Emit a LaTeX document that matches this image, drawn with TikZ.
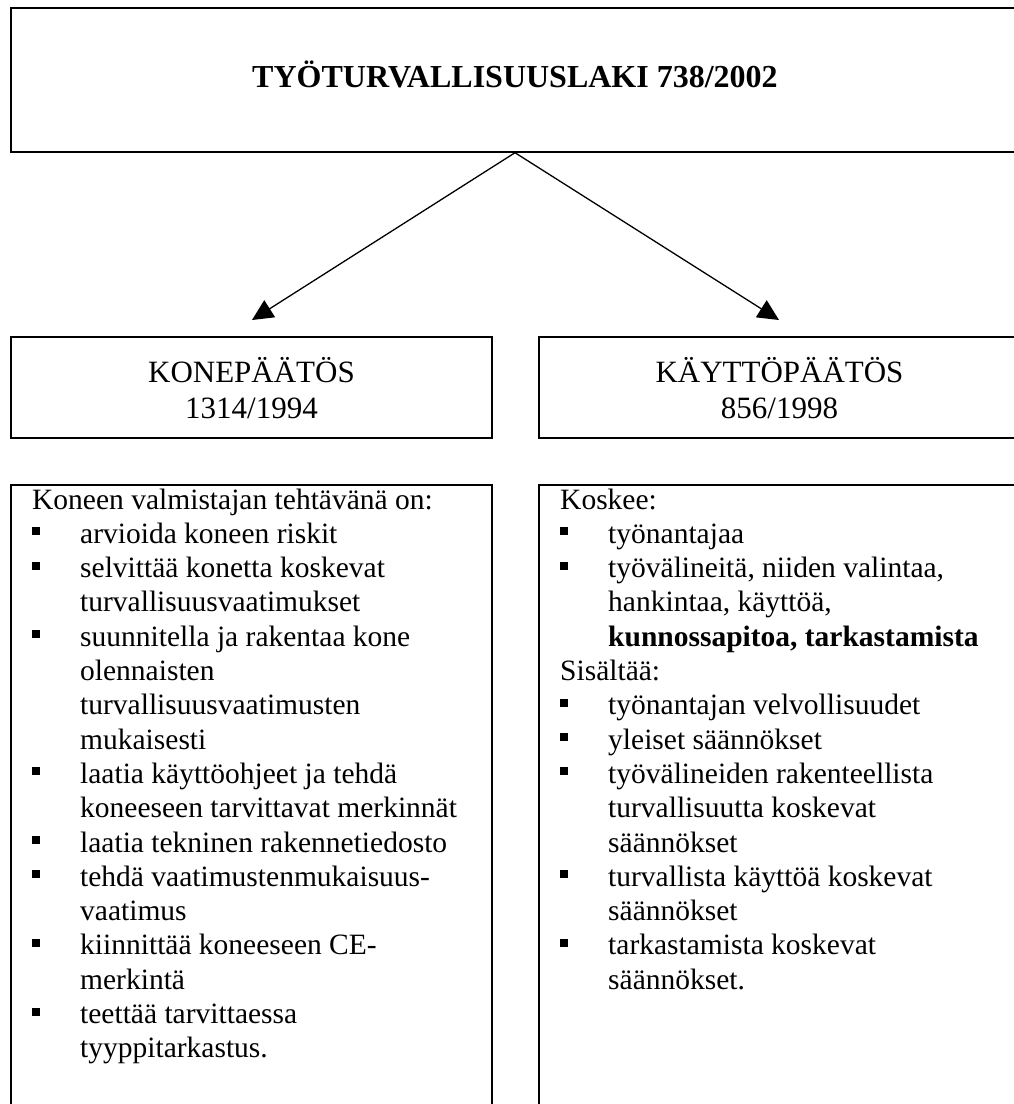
\documentclass[tikz,border=0pt]{standalone}
\usepackage{fontspec}
\setmainfont{Liberation Serif}
\usetikzlibrary{arrows.meta}

\tikzset{
  frame/.style={draw, line width=1.4pt, rectangle, inner sep=0pt},
  link/.style={line width=1.3pt, -{Triangle[length=21pt,width=20pt]}},
  headtext/.style={font=\fontsize{32}{38}\selectfont\bfseries, inner sep=0pt, anchor=base},
  decree/.style={font=\fontsize{31}{36}\selectfont, inner sep=0pt, anchor=base},
  listtext/.style={font=\fontsize{29.5}{34.3}\selectfont, inner sep=0pt, anchor=base west},
}

% square bullet and hanging indent for the lists
\newcommand\sqbul{\makebox[48pt][l]{\rule[0.27em]{0.27em}{0.27em}}}
\newcommand\contline{\hspace*{48pt}}

\begin{document}
\begin{tikzpicture}[x=1pt,y=-1pt]
\useasboundingbox (0,0) rectangle (1014,1104);
\clip (0,0) rectangle (1014,1104);
\fill[white] (0,0) rectangle (1014,1104);

% law at the top
\node[frame, minimum width=1008pt, minimum height=144pt] (law) at (515,80) {};
\node[headtext] (lawtitle) at (515,87) {TYÖTURVALLISUUSLAKI 738/2002};

% the two decrees
\node[frame, minimum width=481pt, minimum height=101pt] (kone) at (251.5,387.5) {};
\node[frame, minimum width=481pt, minimum height=101pt] (kaytto) at (779.5,387.5) {};
\node[decree] (konetext) at (251.5,382) {\parbox[t]{440pt}{\centering KONEPÄÄTÖS\\1314/1994}};
\node[decree] (kayttotext) at (779.5,382) {\parbox[t]{440pt}{\centering KÄYTTÖPÄÄTÖS\\856/1998}};

% content boxes
\node[frame, minimum width=481pt, minimum height=645pt] (konelist) at (251.5,807.5) {};
\node[frame, minimum width=481pt, minimum height=645pt] (kayttolist) at (779.5,807.5) {};

\node[listtext] (konelisttext) at (32,509) {\parbox[t]{450pt}{%
Koneen valmistajan tehtävänä on:\\
\sqbul arvioida koneen riskit\\
\sqbul selvittää konetta koskevat\\
\contline turvallisuusvaatimukset\\
\sqbul suunnitella ja rakentaa kone\\
\contline olennaisten\\
\contline turvallisuusvaatimusten\\
\contline mukaisesti\\
\sqbul laatia käyttöohjeet ja tehdä\\
\contline koneeseen tarvittavat merkinnät\\
\sqbul laatia tekninen rakennetiedosto\\
\sqbul tehdä vaatimustenmukaisuus-\\
\contline vaatimus\\
\sqbul kiinnittää koneeseen CE-\\
\contline merkintä\\
\sqbul teettää tarvittaessa\\
\contline tyyppitarkastus.}};

\node[listtext] (kayttolisttext) at (560,509) {\parbox[t]{450pt}{%
Koskee:\\
\sqbul työnantajaa\\
\sqbul työvälineitä, niiden valintaa,\\
\contline hankintaa, käyttöä,\\
\contline \textbf{kunnossapitoa, tarkastamista}\\
Sisältää:\\
\sqbul työnantajan velvollisuudet\\
\sqbul yleiset säännökset\\
\sqbul työvälineiden rakenteellista\\
\contline turvallisuutta koskevat\\
\contline säännökset\\
\sqbul turvallista käyttöä koskevat\\
\contline säännökset\\
\sqbul tarkastamista koskevat\\
\contline säännökset.}};

% arrows from the law to the decrees
\coordinate (ltip) at (252,320);
\coordinate (rtip) at (779,320);
\draw[link] (law.south) -- (ltip);
\draw[link] (law.south) -- (rtip);
\end{tikzpicture}
\end{document}
